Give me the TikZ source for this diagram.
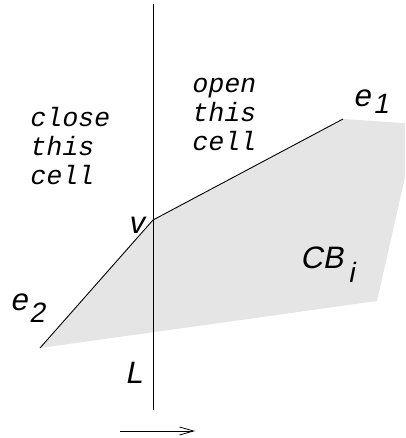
\documentclass[tikz,border=0pt]{standalone}
\usepackage{fontspec}
\setmainfont{Liberation Sans}
\newfontfamily\monofont[FakeSlant=0.2]{Liberation Mono}
\newfontfamily\labfont[FakeSlant=0.2]{Liberation Sans}
\usetikzlibrary{arrows.meta}
\begin{document}
\begin{tikzpicture}[x=1pt,y=-1pt,
  lab/.style={inner sep=0pt,anchor=base west,font=\labfont\fontsize{31}{31}\selectfont},
  sub/.style={inner sep=0pt,anchor=base west,font=\labfont\fontsize{28}{28}\selectfont},
  mono/.style={inner sep=0pt,anchor=base west,font=\monofont\fontsize{26.5}{29}\selectfont},
  edge/.style={line width=0.9pt,black}]
\useasboundingbox (0,0) rectangle (405,438);
\clip (0,0) rectangle (405,438);
% vertices
\coordinate (v) at (153,220);
\coordinate (e1end) at (343,119);
\coordinate (tr) at (417,124);
\coordinate (br) at (377,301);
\coordinate (e2end) at (40,348);
\coordinate (Ltop) at (153,4);
\coordinate (Lbot) at (153,410);
\coordinate (a1) at (120,431);
\coordinate (a2) at (195,431);
% region
\fill[gray!20] (v) -- (e1end) -- (tr) -- (br) -- (e2end) -- cycle;
\draw[edge] (e2end) -- (v) -- (e1end);
\draw[edge] (Ltop) -- (Lbot);
\draw[line width=0.8pt,-{Straight Barb[length=14pt,width=8pt]}] (a1) -- (a2);
% texts
\node[mono] (c1) at (29,127) {close};
\node[mono] (c2) at (29,156) {this};
\node[mono] (c3) at (29,185) {cell};
\node[mono] (o1) at (191,93) {open};
\node[mono] (o2) at (191,122) {this};
\node[mono] (o3) at (191,151) {cell};
\node[lab] (le1) at (353,107) {e};
\node[sub] (le1s) at (373,114) {1};
\node[lab] (lv) at (128,233) {v};
\node[lab] (lcb) at (300,268) {CB};
\node[sub] (lcbs) at (348,282) {i};
\node[lab] (le2) at (10,310) {e};
\node[sub] (le2s) at (29,322) {2};
\node[lab] (lL) at (125,383) {L};
\end{tikzpicture}
\end{document}
